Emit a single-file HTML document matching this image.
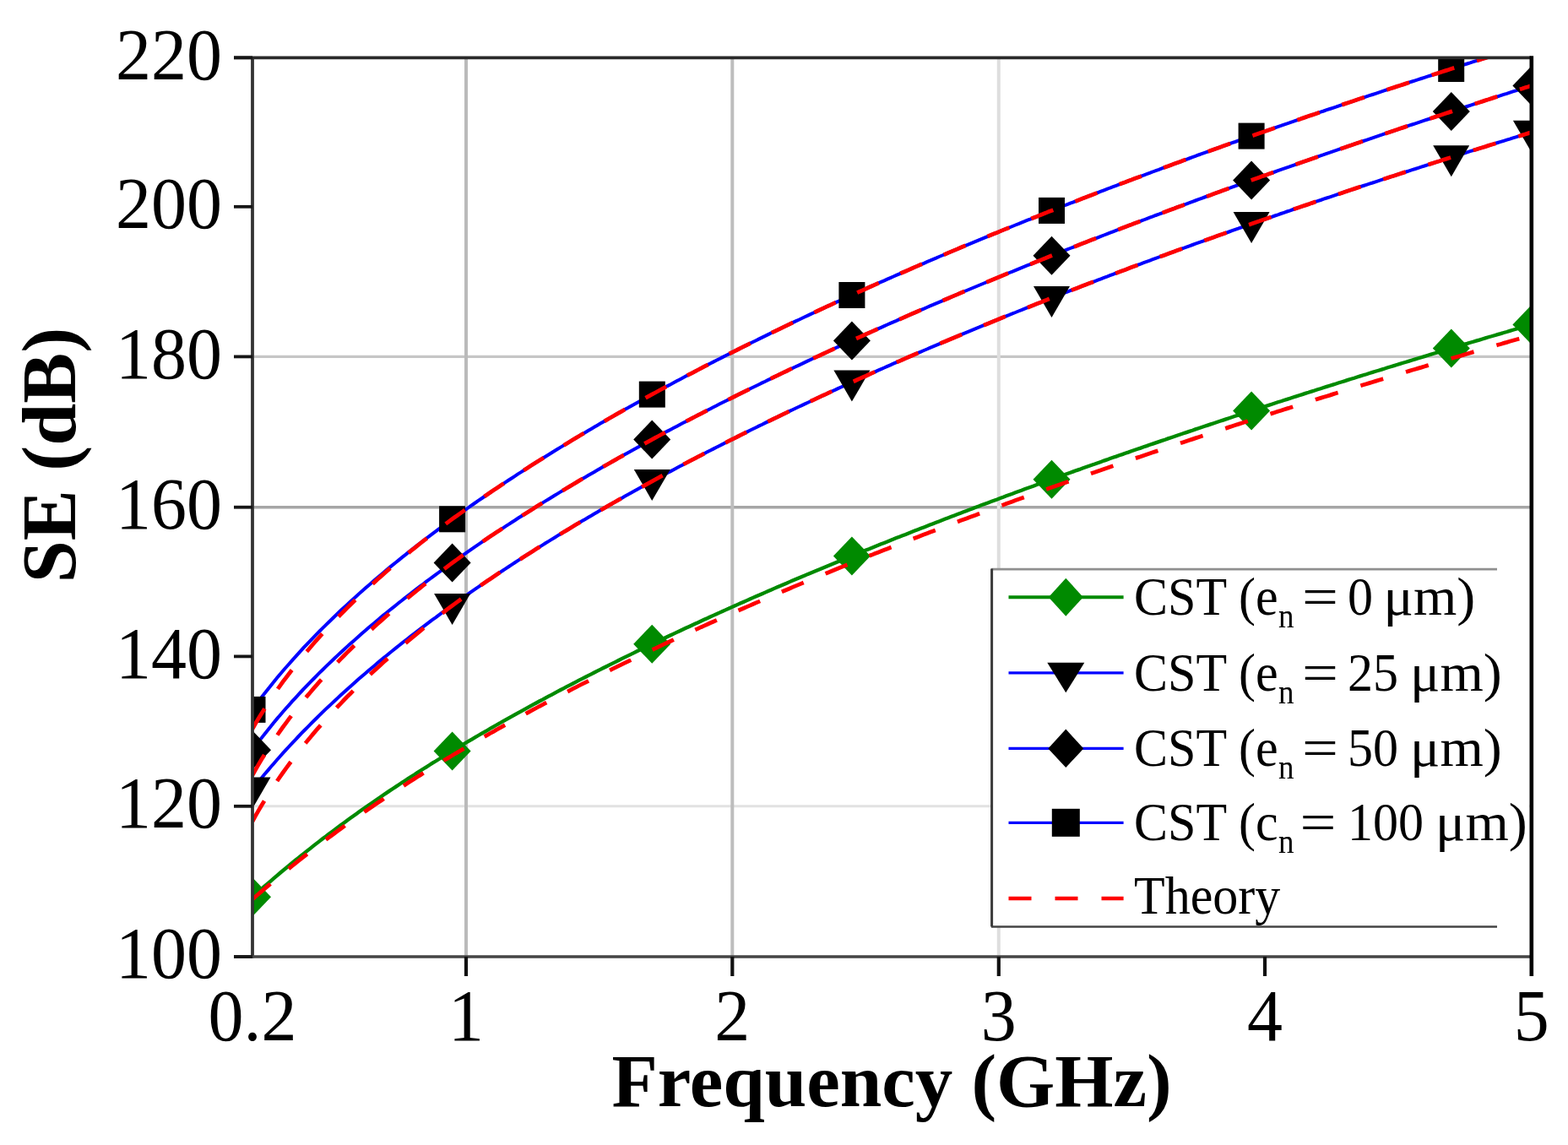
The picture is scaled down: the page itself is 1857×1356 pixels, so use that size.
<!DOCTYPE html><html><head><meta charset="utf-8"><style>html,body{margin:0;padding:0;background:#fff;}svg{display:block;}text{font-family:"Liberation Serif","Times New Roman",serif;}</style></head><body>
<svg width="1857" height="1356" viewBox="0 0 1857 1356">
<rect width="1857" height="1356" fill="#fff"/>
<defs><clipPath id="pc"><rect x="299.0" y="68.9" width="1514.5" height="1064.1"/></clipPath></defs>
<line x1="299.0" y1="422.4" x2="1813.5" y2="422.4" stroke="#c6c6c6" stroke-width="3.2"/>
<line x1="299.0" y1="600.7" x2="1813.5" y2="600.7" stroke="#a6a6a6" stroke-width="3.4"/>
<line x1="299.0" y1="954.8" x2="1813.5" y2="954.8" stroke="#e2e2e2" stroke-width="3.0"/>
<line x1="552.0" y1="68.9" x2="552.0" y2="1133.0" stroke="#bababa" stroke-width="4.0"/>
<line x1="867.3" y1="68.9" x2="867.3" y2="1133.0" stroke="#bdbdbd" stroke-width="4.0"/>
<line x1="1182.8" y1="68.9" x2="1182.8" y2="1133.0" stroke="#dedede" stroke-width="4.0"/>
<g clip-path="url(#pc)" fill="none">
<path d="M299.0,1062.2 L302.6,1059.0 L306.2,1055.9 L309.8,1052.7 L313.5,1049.5 L317.1,1046.4 L320.7,1043.3 L324.3,1040.2 L327.9,1037.1 L331.5,1034.0 L335.1,1031.0 L338.8,1028.0 L342.4,1025.0 L346.0,1022.0 L349.6,1019.0 L353.2,1016.1 L356.8,1013.2 L360.4,1010.3 L364.1,1007.4 L367.7,1004.6 L371.3,1001.7 L374.9,998.9 L378.5,996.1 L382.1,993.3 L385.7,990.6 L389.4,987.8 L393.0,985.1 L396.6,982.4 L400.2,979.7 L403.8,977.0 L407.4,974.4 L411.0,971.7 L414.7,969.1 L418.3,966.5 L421.9,963.9 L425.5,961.3 L429.1,958.8 L432.7,956.2 L436.3,953.7 L440.0,951.2 L443.6,948.7 L447.2,946.2 L450.8,943.8 L454.4,941.3 L458.0,938.9 L461.6,936.4 L465.3,934.0 L468.9,931.6 L472.5,929.2 L476.1,926.8 L479.7,924.5 L483.3,922.1 L486.9,919.8 L490.6,917.5 L494.2,915.1 L497.8,912.8 L501.4,910.5 L505.0,908.3 L508.6,906.0 L512.2,903.7 L515.9,901.5 L519.5,899.2 L523.1,897.0 L526.7,894.8 L530.3,892.6 L533.9,890.4 L537.5,888.2 L541.2,886.0 L544.8,883.9 L548.4,881.7 L552.0,879.5 L555.6,877.4 L559.2,875.3 L562.8,873.2 L566.5,871.0 L570.1,868.9 L573.7,866.8 L577.3,864.8 L580.9,862.7 L584.5,860.6 L588.1,858.5 L591.8,856.5 L595.4,854.4 L599.0,852.4 L602.6,850.4 L606.2,848.4 L609.8,846.3 L613.4,844.3 L617.1,842.3 L620.7,840.4 L624.3,838.4 L627.9,836.4 L631.5,834.4 L635.1,832.5 L638.7,830.5 L642.4,828.6 L646.0,826.6 L649.6,824.7 L653.2,822.8 L656.8,820.8 L660.4,818.9 L664.0,817.0 L667.7,815.1 L671.3,813.2 L674.9,811.3 L678.5,809.5 L682.1,807.6 L685.7,805.7 L689.3,803.9 L693.0,802.0 L696.6,800.2 L700.2,798.3 L703.8,796.5 L707.4,794.6 L711.0,792.8 L714.6,791.0 L718.3,789.2 L721.9,787.4 L725.5,785.6 L729.1,783.8 L732.7,782.0 L736.3,780.2 L739.9,778.4 L743.6,776.6 L747.2,774.9 L750.8,773.1 L754.4,771.3 L758.0,769.6 L761.6,767.8 L765.2,766.1 L768.9,764.3 L772.5,762.6 L776.1,760.9 L779.7,759.2 L783.3,757.4 L786.9,755.7 L790.5,754.0 L794.2,752.3 L797.8,750.6 L801.4,748.9 L805.0,747.2 L808.6,745.5 L812.2,743.8 L815.8,742.2 L819.5,740.5 L823.1,738.8 L826.7,737.2 L830.3,735.5 L833.9,733.8 L837.5,732.2 L841.1,730.5 L844.8,728.9 L848.4,727.3 L852.0,725.6 L855.6,724.0 L859.2,722.4 L862.8,720.8 L866.4,719.1 L870.1,717.5 L873.7,715.9 L877.3,714.3 L880.9,712.7 L884.5,711.1 L888.1,709.5 L891.7,707.9 L895.4,706.3 L899.0,704.8 L902.6,703.2 L906.2,701.6 L909.8,700.0 L913.4,698.5 L917.0,696.9 L920.7,695.3 L924.3,693.8 L927.9,692.2 L931.5,690.7 L935.1,689.1 L938.7,687.6 L942.3,686.1 L946.0,684.5 L949.6,683.0 L953.2,681.5 L956.8,679.9 L960.4,678.4 L964.0,676.9 L967.6,675.4 L971.3,673.9 L974.9,672.4 L978.5,670.9 L982.1,669.4 L985.7,667.9 L989.3,666.4 L992.9,664.9 L996.6,663.4 L1000.2,661.9 L1003.8,660.4 L1007.4,659.0 L1011.0,657.5 L1014.6,656.0 L1018.2,654.5 L1021.9,653.1 L1025.5,651.6 L1029.1,650.2 L1032.7,648.7 L1036.3,647.2 L1039.9,645.8 L1043.5,644.3 L1047.2,642.9 L1050.8,641.5 L1054.4,640.0 L1058.0,638.6 L1061.6,637.1 L1065.2,635.7 L1068.9,634.3 L1072.5,632.9 L1076.1,631.4 L1079.7,630.0 L1083.3,628.6 L1086.9,627.2 L1090.5,625.8 L1094.2,624.4 L1097.8,623.0 L1101.4,621.6 L1105.0,620.2 L1108.6,618.8 L1112.2,617.4 L1115.8,616.0 L1119.5,614.6 L1123.1,613.2 L1126.7,611.8 L1130.3,610.4 L1133.9,609.1 L1137.5,607.7 L1141.1,606.3 L1144.8,604.9 L1148.4,603.6 L1152.0,602.2 L1155.6,600.8 L1159.2,599.5 L1162.8,598.1 L1166.4,596.8 L1170.1,595.4 L1173.7,594.1 L1177.3,592.7 L1180.9,591.4 L1184.5,590.0 L1188.1,588.7 L1191.7,587.3 L1195.4,586.0 L1199.0,584.7 L1202.6,583.3 L1206.2,582.0 L1209.8,580.7 L1213.4,579.3 L1217.0,578.0 L1220.7,576.7 L1224.3,575.4 L1227.9,574.1 L1231.5,572.7 L1235.1,571.4 L1238.7,570.1 L1242.3,568.8 L1246.0,567.5 L1249.6,566.2 L1253.2,564.9 L1256.8,563.6 L1260.4,562.3 L1264.0,561.0 L1267.6,559.7 L1271.3,558.4 L1274.9,557.1 L1278.5,555.9 L1282.1,554.6 L1285.7,553.3 L1289.3,552.0 L1292.9,550.7 L1296.6,549.5 L1300.2,548.2 L1303.8,546.9 L1307.4,545.6 L1311.0,544.4 L1314.6,543.1 L1318.2,541.8 L1321.9,540.6 L1325.5,539.3 L1329.1,538.1 L1332.7,536.8 L1336.3,535.6 L1339.9,534.3 L1343.5,533.0 L1347.2,531.8 L1350.8,530.6 L1354.4,529.3 L1358.0,528.1 L1361.6,526.8 L1365.2,525.6 L1368.8,524.4 L1372.5,523.1 L1376.1,521.9 L1379.7,520.7 L1383.3,519.4 L1386.9,518.2 L1390.5,517.0 L1394.1,515.7 L1397.8,514.5 L1401.4,513.3 L1405.0,512.1 L1408.6,510.9 L1412.2,509.7 L1415.8,508.4 L1419.4,507.2 L1423.1,506.0 L1426.7,504.8 L1430.3,503.6 L1433.9,502.4 L1437.5,501.2 L1441.1,500.0 L1444.7,498.8 L1448.4,497.6 L1452.0,496.4 L1455.6,495.2 L1459.2,494.0 L1462.8,492.8 L1466.4,491.6 L1470.0,490.5 L1473.7,489.3 L1477.3,488.1 L1480.9,486.9 L1484.5,485.7 L1488.1,484.6 L1491.7,483.4 L1495.3,482.2 L1499.0,481.0 L1502.6,479.9 L1506.2,478.7 L1509.8,477.5 L1513.4,476.3 L1517.0,475.2 L1520.6,474.0 L1524.3,472.9 L1527.9,471.7 L1531.5,470.5 L1535.1,469.4 L1538.7,468.2 L1542.3,467.1 L1545.9,465.9 L1549.6,464.8 L1553.2,463.6 L1556.8,462.5 L1560.4,461.3 L1564.0,460.2 L1567.6,459.0 L1571.2,457.9 L1574.9,456.7 L1578.5,455.6 L1582.1,454.5 L1585.7,453.3 L1589.3,452.2 L1592.9,451.1 L1596.5,449.9 L1600.2,448.8 L1603.8,447.7 L1607.4,446.5 L1611.0,445.4 L1614.6,444.3 L1618.2,443.2 L1621.8,442.0 L1625.5,440.9 L1629.1,439.8 L1632.7,438.7 L1636.3,437.6 L1639.9,436.5 L1643.5,435.3 L1647.1,434.2 L1650.8,433.1 L1654.4,432.0 L1658.0,430.9 L1661.6,429.8 L1665.2,428.7 L1668.8,427.6 L1672.4,426.5 L1676.1,425.4 L1679.7,424.3 L1683.3,423.2 L1686.9,422.1 L1690.5,421.0 L1694.1,419.9 L1697.7,418.8 L1701.4,417.7 L1705.0,416.6 L1708.6,415.5 L1712.2,414.4 L1715.8,413.4 L1719.4,412.3 L1723.0,411.2 L1726.7,410.1 L1730.3,409.0 L1733.9,407.9 L1737.5,406.9 L1741.1,405.8 L1744.7,404.7 L1748.3,403.6 L1752.0,402.6 L1755.6,401.5 L1759.2,400.4 L1762.8,399.3 L1766.4,398.3 L1770.0,397.2 L1773.6,396.1 L1777.3,395.1 L1780.9,394.0 L1784.5,393.0 L1788.1,391.9 L1791.7,390.8 L1795.3,389.8 L1798.9,388.7 L1802.6,387.7 L1806.2,386.6 L1809.8,385.6 L1813.4,384.5" stroke="#008a00" stroke-width="4.3" fill="none"/>
<path d="M299.0,934.6 L302.6,930.1 L306.2,925.6 L309.8,921.2 L313.5,916.8 L317.1,912.6 L320.7,908.3 L324.3,904.2 L327.9,900.0 L331.5,896.0 L335.1,891.9 L338.8,887.9 L342.4,884.0 L346.0,880.1 L349.6,876.3 L353.2,872.5 L356.8,868.7 L360.4,865.0 L364.1,861.3 L367.7,857.7 L371.3,854.0 L374.9,850.5 L378.5,846.9 L382.1,843.4 L385.7,839.9 L389.4,836.5 L393.0,833.1 L396.6,829.7 L400.2,826.4 L403.8,823.0 L407.4,819.7 L411.0,816.5 L414.7,813.2 L418.3,810.0 L421.9,806.8 L425.5,803.6 L429.1,800.5 L432.7,797.4 L436.3,794.3 L440.0,791.2 L443.6,788.2 L447.2,785.1 L450.8,782.1 L454.4,779.1 L458.0,776.2 L461.6,773.2 L465.3,770.3 L468.9,767.4 L472.5,764.5 L476.1,761.7 L479.7,758.8 L483.3,756.0 L486.9,753.2 L490.6,750.4 L494.2,747.6 L497.8,744.8 L501.4,742.1 L505.0,739.4 L508.6,736.6 L512.2,733.9 L515.9,731.3 L519.5,728.6 L523.1,725.9 L526.7,723.3 L530.3,720.7 L533.9,718.1 L537.5,715.5 L541.2,712.9 L544.8,710.3 L548.4,707.8 L552.0,705.3 L555.6,702.7 L559.2,700.2 L562.8,697.7 L566.5,695.2 L570.1,692.7 L573.7,690.3 L577.3,687.8 L580.9,685.4 L584.5,683.0 L588.1,680.6 L591.8,678.1 L595.4,675.8 L599.0,673.4 L602.6,671.0 L606.2,668.6 L609.8,666.3 L613.4,663.9 L617.1,661.6 L620.7,659.3 L624.3,657.0 L627.9,654.7 L631.5,652.4 L635.1,650.1 L638.7,647.9 L642.4,645.6 L646.0,643.3 L649.6,641.1 L653.2,638.9 L656.8,636.7 L660.4,634.4 L664.0,632.2 L667.7,630.0 L671.3,627.9 L674.9,625.7 L678.5,623.5 L682.1,621.3 L685.7,619.2 L689.3,617.0 L693.0,614.9 L696.6,612.8 L700.2,610.7 L703.8,608.5 L707.4,606.4 L711.0,604.3 L714.6,602.3 L718.3,600.2 L721.9,598.1 L725.5,596.0 L729.1,594.0 L732.7,591.9 L736.3,589.9 L739.9,587.8 L743.6,585.8 L747.2,583.8 L750.8,581.8 L754.4,579.8 L758.0,577.8 L761.6,575.8 L765.2,573.8 L768.9,571.8 L772.5,569.8 L776.1,567.9 L779.7,565.9 L783.3,563.9 L786.9,562.0 L790.5,560.0 L794.2,558.1 L797.8,556.2 L801.4,554.3 L805.0,552.3 L808.6,550.4 L812.2,548.5 L815.8,546.6 L819.5,544.7 L823.1,542.8 L826.7,540.9 L830.3,539.1 L833.9,537.2 L837.5,535.3 L841.1,533.5 L844.8,531.6 L848.4,529.8 L852.0,527.9 L855.6,526.1 L859.2,524.3 L862.8,522.4 L866.4,520.6 L870.1,518.8 L873.7,517.0 L877.3,515.2 L880.9,513.4 L884.5,511.6 L888.1,509.8 L891.7,508.0 L895.4,506.2 L899.0,504.4 L902.6,502.7 L906.2,500.9 L909.8,499.1 L913.4,497.4 L917.0,495.6 L920.7,493.9 L924.3,492.1 L927.9,490.4 L931.5,488.7 L935.1,486.9 L938.7,485.2 L942.3,483.5 L946.0,481.8 L949.6,480.1 L953.2,478.4 L956.8,476.7 L960.4,475.0 L964.0,473.3 L967.6,471.6 L971.3,469.9 L974.9,468.2 L978.5,466.6 L982.1,464.9 L985.7,463.2 L989.3,461.6 L992.9,459.9 L996.6,458.2 L1000.2,456.6 L1003.8,454.9 L1007.4,453.3 L1011.0,451.7 L1014.6,450.0 L1018.2,448.4 L1021.9,446.8 L1025.5,445.2 L1029.1,443.5 L1032.7,441.9 L1036.3,440.3 L1039.9,438.7 L1043.5,437.1 L1047.2,435.5 L1050.8,433.9 L1054.4,432.3 L1058.0,430.7 L1061.6,429.1 L1065.2,427.6 L1068.9,426.0 L1072.5,424.4 L1076.1,422.8 L1079.7,421.3 L1083.3,419.7 L1086.9,418.1 L1090.5,416.6 L1094.2,415.0 L1097.8,413.5 L1101.4,411.9 L1105.0,410.4 L1108.6,408.9 L1112.2,407.3 L1115.8,405.8 L1119.5,404.3 L1123.1,402.7 L1126.7,401.2 L1130.3,399.7 L1133.9,398.2 L1137.5,396.7 L1141.1,395.2 L1144.8,393.6 L1148.4,392.1 L1152.0,390.6 L1155.6,389.1 L1159.2,387.7 L1162.8,386.2 L1166.4,384.7 L1170.1,383.2 L1173.7,381.7 L1177.3,380.2 L1180.9,378.8 L1184.5,377.3 L1188.1,375.8 L1191.7,374.3 L1195.4,372.9 L1199.0,371.4 L1202.6,370.0 L1206.2,368.5 L1209.8,367.1 L1213.4,365.6 L1217.0,364.2 L1220.7,362.7 L1224.3,361.3 L1227.9,359.8 L1231.5,358.4 L1235.1,357.0 L1238.7,355.6 L1242.3,354.1 L1246.0,352.7 L1249.6,351.3 L1253.2,349.9 L1256.8,348.5 L1260.4,347.0 L1264.0,345.6 L1267.6,344.2 L1271.3,342.8 L1274.9,341.4 L1278.5,340.0 L1282.1,338.6 L1285.7,337.2 L1289.3,335.8 L1292.9,334.5 L1296.6,333.1 L1300.2,331.7 L1303.8,330.3 L1307.4,328.9 L1311.0,327.6 L1314.6,326.2 L1318.2,324.8 L1321.9,323.4 L1325.5,322.1 L1329.1,320.7 L1332.7,319.4 L1336.3,318.0 L1339.9,316.6 L1343.5,315.3 L1347.2,313.9 L1350.8,312.6 L1354.4,311.2 L1358.0,309.9 L1361.6,308.6 L1365.2,307.2 L1368.8,305.9 L1372.5,304.5 L1376.1,303.2 L1379.7,301.9 L1383.3,300.6 L1386.9,299.2 L1390.5,297.9 L1394.1,296.6 L1397.8,295.3 L1401.4,294.0 L1405.0,292.6 L1408.6,291.3 L1412.2,290.0 L1415.8,288.7 L1419.4,287.4 L1423.1,286.1 L1426.7,284.8 L1430.3,283.5 L1433.9,282.2 L1437.5,280.9 L1441.1,279.6 L1444.7,278.3 L1448.4,277.1 L1452.0,275.8 L1455.6,274.5 L1459.2,273.2 L1462.8,271.9 L1466.4,270.7 L1470.0,269.4 L1473.7,268.1 L1477.3,266.8 L1480.9,265.6 L1484.5,264.3 L1488.1,263.0 L1491.7,261.8 L1495.3,260.5 L1499.0,259.3 L1502.6,258.0 L1506.2,256.8 L1509.8,255.5 L1513.4,254.3 L1517.0,253.0 L1520.6,251.8 L1524.3,250.5 L1527.9,249.3 L1531.5,248.0 L1535.1,246.8 L1538.7,245.6 L1542.3,244.3 L1545.9,243.1 L1549.6,241.9 L1553.2,240.6 L1556.8,239.4 L1560.4,238.2 L1564.0,237.0 L1567.6,235.7 L1571.2,234.5 L1574.9,233.3 L1578.5,232.1 L1582.1,230.9 L1585.7,229.7 L1589.3,228.5 L1592.9,227.2 L1596.5,226.0 L1600.2,224.8 L1603.8,223.6 L1607.4,222.4 L1611.0,221.2 L1614.6,220.0 L1618.2,218.8 L1621.8,217.6 L1625.5,216.5 L1629.1,215.3 L1632.7,214.1 L1636.3,212.9 L1639.9,211.7 L1643.5,210.5 L1647.1,209.3 L1650.8,208.2 L1654.4,207.0 L1658.0,205.8 L1661.6,204.6 L1665.2,203.5 L1668.8,202.3 L1672.4,201.1 L1676.1,200.0 L1679.7,198.8 L1683.3,197.6 L1686.9,196.5 L1690.5,195.3 L1694.1,194.1 L1697.7,193.0 L1701.4,191.8 L1705.0,190.7 L1708.6,189.5 L1712.2,188.4 L1715.8,187.2 L1719.4,186.1 L1723.0,184.9 L1726.7,183.8 L1730.3,182.6 L1733.9,181.5 L1737.5,180.4 L1741.1,179.2 L1744.7,178.1 L1748.3,177.0 L1752.0,175.8 L1755.6,174.7 L1759.2,173.6 L1762.8,172.4 L1766.4,171.3 L1770.0,170.2 L1773.6,169.0 L1777.3,167.9 L1780.9,166.8 L1784.5,165.7 L1788.1,164.6 L1791.7,163.4 L1795.3,162.3 L1798.9,161.2 L1802.6,160.1 L1806.2,159.0 L1809.8,157.9 L1813.4,156.8" stroke="#0000ff" stroke-width="4.0" fill="none"/>
<path d="M299.0,888.3 L302.6,883.4 L306.2,878.6 L309.8,873.9 L313.5,869.2 L317.1,864.7 L320.7,860.2 L324.3,855.8 L327.9,851.4 L331.5,847.2 L335.1,843.0 L338.8,838.8 L342.4,834.8 L346.0,830.7 L349.6,826.8 L353.2,822.8 L356.8,819.0 L360.4,815.2 L364.1,811.4 L367.7,807.7 L371.3,804.0 L374.9,800.3 L378.5,796.7 L382.1,793.2 L385.7,789.6 L389.4,786.1 L393.0,782.7 L396.6,779.3 L400.2,775.9 L403.8,772.5 L407.4,769.2 L411.0,765.9 L414.7,762.6 L418.3,759.4 L421.9,756.2 L425.5,753.0 L429.1,749.8 L432.7,746.7 L436.3,743.6 L440.0,740.5 L443.6,737.5 L447.2,734.4 L450.8,731.4 L454.4,728.4 L458.0,725.5 L461.6,722.5 L465.3,719.6 L468.9,716.7 L472.5,713.8 L476.1,711.0 L479.7,708.1 L483.3,705.3 L486.9,702.5 L490.6,699.7 L494.2,696.9 L497.8,694.2 L501.4,691.5 L505.0,688.7 L508.6,686.0 L512.2,683.4 L515.9,680.7 L519.5,678.0 L523.1,675.4 L526.7,672.8 L530.3,670.2 L533.9,667.6 L537.5,665.0 L541.2,662.5 L544.8,659.9 L548.4,657.4 L552.0,654.8 L555.6,652.3 L559.2,649.8 L562.8,647.4 L566.5,644.9 L570.1,642.4 L573.7,640.0 L577.3,637.5 L580.9,635.1 L584.5,632.7 L588.1,630.3 L591.8,627.9 L595.4,625.6 L599.0,623.2 L602.6,620.8 L606.2,618.5 L609.8,616.2 L613.4,613.8 L617.1,611.5 L620.7,609.2 L624.3,606.9 L627.9,604.7 L631.5,602.4 L635.1,600.1 L638.7,597.9 L642.4,595.6 L646.0,593.4 L649.6,591.2 L653.2,589.0 L656.8,586.8 L660.4,584.6 L664.0,582.4 L667.7,580.2 L671.3,578.0 L674.9,575.9 L678.5,573.7 L682.1,571.6 L685.7,569.4 L689.3,567.3 L693.0,565.2 L696.6,563.1 L700.2,561.0 L703.8,558.9 L707.4,556.8 L711.0,554.7 L714.6,552.6 L718.3,550.5 L721.9,548.5 L725.5,546.4 L729.1,544.4 L732.7,542.3 L736.3,540.3 L739.9,538.3 L743.6,536.3 L747.2,534.3 L750.8,532.3 L754.4,530.3 L758.0,528.3 L761.6,526.3 L765.2,524.3 L768.9,522.3 L772.5,520.4 L776.1,518.4 L779.7,516.5 L783.3,514.5 L786.9,512.6 L790.5,510.6 L794.2,508.7 L797.8,506.8 L801.4,504.9 L805.0,503.0 L808.6,501.1 L812.2,499.2 L815.8,497.3 L819.5,495.4 L823.1,493.5 L826.7,491.6 L830.3,489.8 L833.9,487.9 L837.5,486.0 L841.1,484.2 L844.8,482.3 L848.4,480.5 L852.0,478.6 L855.6,476.8 L859.2,475.0 L862.8,473.2 L866.4,471.3 L870.1,469.5 L873.7,467.7 L877.3,465.9 L880.9,464.1 L884.5,462.3 L888.1,460.5 L891.7,458.8 L895.4,457.0 L899.0,455.2 L902.6,453.4 L906.2,451.7 L909.8,449.9 L913.4,448.2 L917.0,446.4 L920.7,444.7 L924.3,442.9 L927.9,441.2 L931.5,439.5 L935.1,437.7 L938.7,436.0 L942.3,434.3 L946.0,432.6 L949.6,430.9 L953.2,429.1 L956.8,427.4 L960.4,425.7 L964.0,424.0 L967.6,422.4 L971.3,420.7 L974.9,419.0 L978.5,417.3 L982.1,415.6 L985.7,414.0 L989.3,412.3 L992.9,410.6 L996.6,409.0 L1000.2,407.3 L1003.8,405.7 L1007.4,404.0 L1011.0,402.4 L1014.6,400.7 L1018.2,399.1 L1021.9,397.5 L1025.5,395.8 L1029.1,394.2 L1032.7,392.6 L1036.3,391.0 L1039.9,389.4 L1043.5,387.8 L1047.2,386.1 L1050.8,384.5 L1054.4,382.9 L1058.0,381.3 L1061.6,379.8 L1065.2,378.2 L1068.9,376.6 L1072.5,375.0 L1076.1,373.4 L1079.7,371.8 L1083.3,370.3 L1086.9,368.7 L1090.5,367.1 L1094.2,365.6 L1097.8,364.0 L1101.4,362.4 L1105.0,360.9 L1108.6,359.3 L1112.2,357.8 L1115.8,356.3 L1119.5,354.7 L1123.1,353.2 L1126.7,351.6 L1130.3,350.1 L1133.9,348.6 L1137.5,347.0 L1141.1,345.5 L1144.8,344.0 L1148.4,342.5 L1152.0,341.0 L1155.6,339.5 L1159.2,338.0 L1162.8,336.5 L1166.4,335.0 L1170.1,333.5 L1173.7,332.0 L1177.3,330.5 L1180.9,329.0 L1184.5,327.5 L1188.1,326.0 L1191.7,324.5 L1195.4,323.0 L1199.0,321.6 L1202.6,320.1 L1206.2,318.6 L1209.8,317.1 L1213.4,315.7 L1217.0,314.2 L1220.7,312.8 L1224.3,311.3 L1227.9,309.8 L1231.5,308.4 L1235.1,306.9 L1238.7,305.5 L1242.3,304.0 L1246.0,302.6 L1249.6,301.2 L1253.2,299.7 L1256.8,298.3 L1260.4,296.9 L1264.0,295.4 L1267.6,294.0 L1271.3,292.6 L1274.9,291.2 L1278.5,289.7 L1282.1,288.3 L1285.7,286.9 L1289.3,285.5 L1292.9,284.1 L1296.6,282.7 L1300.2,281.3 L1303.8,279.9 L1307.4,278.5 L1311.0,277.1 L1314.6,275.7 L1318.2,274.3 L1321.9,272.9 L1325.5,271.5 L1329.1,270.1 L1332.7,268.7 L1336.3,267.3 L1339.9,266.0 L1343.5,264.6 L1347.2,263.2 L1350.8,261.8 L1354.4,260.5 L1358.0,259.1 L1361.6,257.7 L1365.2,256.4 L1368.8,255.0 L1372.5,253.7 L1376.1,252.3 L1379.7,250.9 L1383.3,249.6 L1386.9,248.2 L1390.5,246.9 L1394.1,245.5 L1397.8,244.2 L1401.4,242.9 L1405.0,241.5 L1408.6,240.2 L1412.2,238.8 L1415.8,237.5 L1419.4,236.2 L1423.1,234.8 L1426.7,233.5 L1430.3,232.2 L1433.9,230.9 L1437.5,229.5 L1441.1,228.2 L1444.7,226.9 L1448.4,225.6 L1452.0,224.3 L1455.6,223.0 L1459.2,221.6 L1462.8,220.3 L1466.4,219.0 L1470.0,217.7 L1473.7,216.4 L1477.3,215.1 L1480.9,213.8 L1484.5,212.5 L1488.1,211.2 L1491.7,209.9 L1495.3,208.6 L1499.0,207.4 L1502.6,206.1 L1506.2,204.8 L1509.8,203.5 L1513.4,202.2 L1517.0,200.9 L1520.6,199.7 L1524.3,198.4 L1527.9,197.1 L1531.5,195.8 L1535.1,194.6 L1538.7,193.3 L1542.3,192.0 L1545.9,190.8 L1549.6,189.5 L1553.2,188.2 L1556.8,187.0 L1560.4,185.7 L1564.0,184.4 L1567.6,183.2 L1571.2,181.9 L1574.9,180.7 L1578.5,179.4 L1582.1,178.2 L1585.7,176.9 L1589.3,175.7 L1592.9,174.5 L1596.5,173.2 L1600.2,172.0 L1603.8,170.7 L1607.4,169.5 L1611.0,168.3 L1614.6,167.0 L1618.2,165.8 L1621.8,164.6 L1625.5,163.3 L1629.1,162.1 L1632.7,160.9 L1636.3,159.7 L1639.9,158.4 L1643.5,157.2 L1647.1,156.0 L1650.8,154.8 L1654.4,153.6 L1658.0,152.3 L1661.6,151.1 L1665.2,149.9 L1668.8,148.7 L1672.4,147.5 L1676.1,146.3 L1679.7,145.1 L1683.3,143.9 L1686.9,142.7 L1690.5,141.5 L1694.1,140.3 L1697.7,139.1 L1701.4,137.9 L1705.0,136.7 L1708.6,135.5 L1712.2,134.3 L1715.8,133.1 L1719.4,131.9 L1723.0,130.7 L1726.7,129.6 L1730.3,128.4 L1733.9,127.2 L1737.5,126.0 L1741.1,124.8 L1744.7,123.6 L1748.3,122.5 L1752.0,121.3 L1755.6,120.1 L1759.2,118.9 L1762.8,117.8 L1766.4,116.6 L1770.0,115.4 L1773.6,114.3 L1777.3,113.1 L1780.9,111.9 L1784.5,110.8 L1788.1,109.6 L1791.7,108.4 L1795.3,107.3 L1798.9,106.1 L1802.6,105.0 L1806.2,103.8 L1809.8,102.7 L1813.4,101.5" stroke="#0000ff" stroke-width="4.0" fill="none"/>
<path d="M299.0,840.4 L302.6,835.5 L306.2,830.6 L309.8,825.8 L313.5,821.1 L317.1,816.5 L320.7,812.0 L324.3,807.5 L327.9,803.1 L331.5,798.8 L335.1,794.5 L338.8,790.3 L342.4,786.2 L346.0,782.1 L349.6,778.1 L353.2,774.1 L356.8,770.1 L360.4,766.2 L364.1,762.4 L367.7,758.6 L371.3,754.9 L374.9,751.2 L378.5,747.5 L382.1,743.9 L385.7,740.3 L389.4,736.7 L393.0,733.2 L396.6,729.7 L400.2,726.2 L403.8,722.8 L407.4,719.4 L411.0,716.1 L414.7,712.7 L418.3,709.5 L421.9,706.2 L425.5,702.9 L429.1,699.7 L432.7,696.5 L436.3,693.4 L440.0,690.2 L443.6,687.1 L447.2,684.0 L450.8,681.0 L454.4,677.9 L458.0,674.9 L461.6,671.9 L465.3,668.9 L468.9,666.0 L472.5,663.1 L476.1,660.1 L479.7,657.3 L483.3,654.4 L486.9,651.5 L490.6,648.7 L494.2,645.9 L497.8,643.1 L501.4,640.3 L505.0,637.5 L508.6,634.8 L512.2,632.1 L515.9,629.3 L519.5,626.6 L523.1,624.0 L526.7,621.3 L530.3,618.7 L533.9,616.0 L537.5,613.4 L541.2,610.8 L544.8,608.2 L548.4,605.6 L552.0,603.1 L555.6,600.5 L559.2,598.0 L562.8,595.5 L566.5,592.9 L570.1,590.5 L573.7,588.0 L577.3,585.5 L580.9,583.0 L584.5,580.6 L588.1,578.2 L591.8,575.7 L595.4,573.3 L599.0,570.9 L602.6,568.5 L606.2,566.2 L609.8,563.8 L613.4,561.4 L617.1,559.1 L620.7,556.8 L624.3,554.4 L627.9,552.1 L631.5,549.8 L635.1,547.5 L638.7,545.3 L642.4,543.0 L646.0,540.7 L649.6,538.5 L653.2,536.2 L656.8,534.0 L660.4,531.8 L664.0,529.6 L667.7,527.4 L671.3,525.2 L674.9,523.0 L678.5,520.8 L682.1,518.6 L685.7,516.5 L689.3,514.3 L693.0,512.2 L696.6,510.0 L700.2,507.9 L703.8,505.8 L707.4,503.7 L711.0,501.6 L714.6,499.5 L718.3,497.4 L721.9,495.3 L725.5,493.2 L729.1,491.2 L732.7,489.1 L736.3,487.1 L739.9,485.0 L743.6,483.0 L747.2,480.9 L750.8,478.9 L754.4,476.9 L758.0,474.9 L761.6,472.9 L765.2,470.9 L768.9,468.9 L772.5,466.9 L776.1,465.0 L779.7,463.0 L783.3,461.0 L786.9,459.1 L790.5,457.1 L794.2,455.2 L797.8,453.3 L801.4,451.3 L805.0,449.4 L808.6,447.5 L812.2,445.6 L815.8,443.7 L819.5,441.8 L823.1,439.9 L826.7,438.0 L830.3,436.1 L833.9,434.2 L837.5,432.4 L841.1,430.5 L844.8,428.6 L848.4,426.8 L852.0,424.9 L855.6,423.1 L859.2,421.3 L862.8,419.4 L866.4,417.6 L870.1,415.8 L873.7,414.0 L877.3,412.2 L880.9,410.4 L884.5,408.6 L888.1,406.8 L891.7,405.0 L895.4,403.2 L899.0,401.4 L902.6,399.6 L906.2,397.9 L909.8,396.1 L913.4,394.3 L917.0,392.6 L920.7,390.8 L924.3,389.1 L927.9,387.3 L931.5,385.6 L935.1,383.9 L938.7,382.1 L942.3,380.4 L946.0,378.7 L949.6,377.0 L953.2,375.3 L956.8,373.6 L960.4,371.9 L964.0,370.2 L967.6,368.5 L971.3,366.8 L974.9,365.1 L978.5,363.4 L982.1,361.8 L985.7,360.1 L989.3,358.4 L992.9,356.8 L996.6,355.1 L1000.2,353.4 L1003.8,351.8 L1007.4,350.1 L1011.0,348.5 L1014.6,346.9 L1018.2,345.2 L1021.9,343.6 L1025.5,342.0 L1029.1,340.3 L1032.7,338.7 L1036.3,337.1 L1039.9,335.5 L1043.5,333.9 L1047.2,332.3 L1050.8,330.7 L1054.4,329.1 L1058.0,327.5 L1061.6,325.9 L1065.2,324.3 L1068.9,322.7 L1072.5,321.2 L1076.1,319.6 L1079.7,318.0 L1083.3,316.4 L1086.9,314.9 L1090.5,313.3 L1094.2,311.8 L1097.8,310.2 L1101.4,308.7 L1105.0,307.1 L1108.6,305.6 L1112.2,304.0 L1115.8,302.5 L1119.5,301.0 L1123.1,299.4 L1126.7,297.9 L1130.3,296.4 L1133.9,294.9 L1137.5,293.3 L1141.1,291.8 L1144.8,290.3 L1148.4,288.8 L1152.0,287.3 L1155.6,285.8 L1159.2,284.3 L1162.8,282.8 L1166.4,281.3 L1170.1,279.8 L1173.7,278.3 L1177.3,276.8 L1180.9,275.4 L1184.5,273.9 L1188.1,272.4 L1191.7,270.9 L1195.4,269.5 L1199.0,268.0 L1202.6,266.5 L1206.2,265.1 L1209.8,263.6 L1213.4,262.2 L1217.0,260.7 L1220.7,259.3 L1224.3,257.8 L1227.9,256.4 L1231.5,254.9 L1235.1,253.5 L1238.7,252.1 L1242.3,250.6 L1246.0,249.2 L1249.6,247.8 L1253.2,246.4 L1256.8,244.9 L1260.4,243.5 L1264.0,242.1 L1267.6,240.7 L1271.3,239.3 L1274.9,237.9 L1278.5,236.5 L1282.1,235.1 L1285.7,233.7 L1289.3,232.3 L1292.9,230.9 L1296.6,229.5 L1300.2,228.1 L1303.8,226.7 L1307.4,225.3 L1311.0,223.9 L1314.6,222.5 L1318.2,221.2 L1321.9,219.8 L1325.5,218.4 L1329.1,217.0 L1332.7,215.7 L1336.3,214.3 L1339.9,213.0 L1343.5,211.6 L1347.2,210.2 L1350.8,208.9 L1354.4,207.5 L1358.0,206.2 L1361.6,204.8 L1365.2,203.5 L1368.8,202.1 L1372.5,200.8 L1376.1,199.4 L1379.7,198.1 L1383.3,196.8 L1386.9,195.4 L1390.5,194.1 L1394.1,192.8 L1397.8,191.5 L1401.4,190.1 L1405.0,188.8 L1408.6,187.5 L1412.2,186.2 L1415.8,184.9 L1419.4,183.5 L1423.1,182.2 L1426.7,180.9 L1430.3,179.6 L1433.9,178.3 L1437.5,177.0 L1441.1,175.7 L1444.7,174.4 L1448.4,173.1 L1452.0,171.8 L1455.6,170.5 L1459.2,169.2 L1462.8,168.0 L1466.4,166.7 L1470.0,165.4 L1473.7,164.1 L1477.3,162.8 L1480.9,161.5 L1484.5,160.3 L1488.1,159.0 L1491.7,157.7 L1495.3,156.5 L1499.0,155.2 L1502.6,153.9 L1506.2,152.7 L1509.8,151.4 L1513.4,150.1 L1517.0,148.9 L1520.6,147.6 L1524.3,146.4 L1527.9,145.1 L1531.5,143.9 L1535.1,142.6 L1538.7,141.4 L1542.3,140.1 L1545.9,138.9 L1549.6,137.6 L1553.2,136.4 L1556.8,135.2 L1560.4,133.9 L1564.0,132.7 L1567.6,131.5 L1571.2,130.2 L1574.9,129.0 L1578.5,127.8 L1582.1,126.6 L1585.7,125.3 L1589.3,124.1 L1592.9,122.9 L1596.5,121.7 L1600.2,120.5 L1603.8,119.3 L1607.4,118.0 L1611.0,116.8 L1614.6,115.6 L1618.2,114.4 L1621.8,113.2 L1625.5,112.0 L1629.1,110.8 L1632.7,109.6 L1636.3,108.4 L1639.9,107.2 L1643.5,106.0 L1647.1,104.8 L1650.8,103.6 L1654.4,102.4 L1658.0,101.3 L1661.6,100.1 L1665.2,98.9 L1668.8,97.7 L1672.4,96.5 L1676.1,95.3 L1679.7,94.2 L1683.3,93.0 L1686.9,91.8 L1690.5,90.6 L1694.1,89.5 L1697.7,88.3 L1701.4,87.1 L1705.0,86.0 L1708.6,84.8 L1712.2,83.6 L1715.8,82.5 L1719.4,81.3 L1723.0,80.2 L1726.7,79.0 L1730.3,77.8 L1733.9,76.7 L1737.5,75.5 L1741.1,74.4 L1744.7,73.2 L1748.3,72.1 L1752.0,70.9 L1755.6,69.8 L1759.2,68.7 L1762.8,67.5 L1766.4,66.4 L1770.0,65.2 L1773.6,64.1 L1777.3,63.0 L1780.9,61.8 L1784.5,60.7 L1788.1,59.6 L1791.7,58.4 L1795.3,57.3 L1798.9,56.2 L1802.6,55.0 L1806.2,53.9 L1809.8,52.8 L1813.4,51.7" stroke="#0000ff" stroke-width="4.0" fill="none"/>
<path d="M299.0,1039.2 L321.0,1062.2 L299.0,1085.2 L277.0,1062.2 Z" fill="#008a00"/>
<path d="M277.5,920.6 L320.5,920.6 L299.0,957.6 Z" fill="#000"/>
<path d="M299.0,865.3 L321.0,888.3 L299.0,911.3 L277.0,888.3 Z" fill="#000"/>
<rect x="283.5" y="824.9" width="31" height="31" fill="#000"/>
<path d="M535.6,866.4 L557.6,889.4 L535.6,912.4 L513.6,889.4 Z" fill="#008a00"/>
<path d="M514.1,702.9 L557.1,702.9 L535.6,739.9 Z" fill="#000"/>
<path d="M535.6,643.4 L557.6,666.4 L535.6,689.4 L513.6,666.4 Z" fill="#000"/>
<rect x="520.1" y="599.3" width="31" height="31" fill="#000"/>
<path d="M772.2,739.7 L794.2,762.7 L772.2,785.7 L750.2,762.7 Z" fill="#008a00"/>
<path d="M750.8,555.9 L793.8,555.9 L772.2,592.9 Z" fill="#000"/>
<path d="M772.2,497.5 L794.2,520.5 L772.2,543.5 L750.2,520.5 Z" fill="#000"/>
<rect x="756.8" y="451.6" width="31" height="31" fill="#000"/>
<path d="M1008.9,635.4 L1030.9,658.4 L1008.9,681.4 L986.9,658.4 Z" fill="#008a00"/>
<path d="M987.4,438.6 L1030.4,438.6 L1008.9,475.6 Z" fill="#000"/>
<path d="M1008.9,380.4 L1030.9,403.4 L1008.9,426.4 L986.9,403.4 Z" fill="#000"/>
<rect x="993.4" y="334.0" width="31" height="31" fill="#000"/>
<path d="M1245.5,544.7 L1267.5,567.7 L1245.5,590.7 L1223.5,567.7 Z" fill="#008a00"/>
<path d="M1224.0,338.9 L1267.0,338.9 L1245.5,375.9 Z" fill="#000"/>
<path d="M1245.5,279.8 L1267.5,302.8 L1245.5,325.8 L1223.5,302.8 Z" fill="#000"/>
<rect x="1230.0" y="233.9" width="31" height="31" fill="#000"/>
<path d="M1482.1,463.5 L1504.1,486.5 L1482.1,509.5 L1460.1,486.5 Z" fill="#008a00"/>
<path d="M1460.6,251.1 L1503.6,251.1 L1482.1,288.1 Z" fill="#000"/>
<path d="M1482.1,190.4 L1504.1,213.4 L1482.1,236.4 L1460.1,213.4 Z" fill="#000"/>
<rect x="1466.6" y="145.6" width="31" height="31" fill="#000"/>
<path d="M1718.8,389.5 L1740.8,412.5 L1718.8,435.5 L1696.8,412.5 Z" fill="#008a00"/>
<path d="M1697.2,172.3 L1740.2,172.3 L1718.8,209.3 Z" fill="#000"/>
<path d="M1718.8,109.1 L1740.8,132.1 L1718.8,155.1 L1696.8,132.1 Z" fill="#000"/>
<rect x="1703.2" y="66.0" width="31" height="31" fill="#000"/>
<path d="M1813.4,361.5 L1835.4,384.5 L1813.4,407.5 L1791.4,384.5 Z" fill="#008a00"/>
<path d="M1791.9,142.8 L1834.9,142.8 L1813.4,179.8 Z" fill="#000"/>
<path d="M1813.4,78.5 L1835.4,101.5 L1813.4,124.5 L1791.4,101.5 Z" fill="#000"/>
<rect x="1797.9" y="36.2" width="31" height="31" fill="#000"/>
<path d="M299.0,1064.9 L302.6,1061.8 L306.2,1058.7 L309.8,1055.6 L313.5,1052.5 L317.1,1049.4 L320.7,1046.4 L324.3,1043.3 L327.9,1040.3 L331.5,1037.3 L335.1,1034.3 L338.8,1031.4 L342.4,1028.4 L346.0,1025.5 L349.6,1022.6 L353.2,1019.7 L356.8,1016.8 L360.4,1014.0 L364.1,1011.1 L367.7,1008.3 L371.3,1005.5 L374.9,1002.8 L378.5,1000.0 L382.1,997.3 L385.7,994.5 L389.4,991.8 L393.0,989.2 L396.6,986.5 L400.2,983.8 L403.8,981.2 L407.4,978.6 L411.0,976.0 L414.7,973.4 L418.3,970.8 L421.9,968.3 L425.5,965.7 L429.1,963.2 L432.7,960.7 L436.3,958.2 L440.0,955.7 L443.6,953.3 L447.2,950.8 L450.8,948.4 L454.4,946.0 L458.0,943.5 L461.6,941.2 L465.3,938.8 L468.9,936.4 L472.5,934.0 L476.1,931.7 L479.7,929.4 L483.3,927.0 L486.9,924.7 L490.6,922.4 L494.2,920.1 L497.8,917.9 L501.4,915.6 L505.0,913.3 L508.6,911.1 L512.2,908.9 L515.9,906.6 L519.5,904.4 L523.1,902.2 L526.7,900.0 L530.3,897.9 L533.9,895.7 L537.5,893.5 L541.2,891.4 L544.8,889.2 L548.4,887.1 L552.0,885.0 L555.6,882.9 L559.2,880.8 L562.8,878.7 L566.5,876.6 L570.1,874.5 L573.7,872.4 L577.3,870.4 L580.9,868.3 L584.5,866.3 L588.1,864.2 L591.8,862.2 L595.4,860.2 L599.0,858.2 L602.6,856.2 L606.2,854.2 L609.8,852.2 L613.4,850.2 L617.1,848.2 L620.7,846.3 L624.3,844.3 L627.9,842.3 L631.5,840.4 L635.1,838.5 L638.7,836.5 L642.4,834.6 L646.0,832.7 L649.6,830.8 L653.2,828.9 L656.8,827.0 L660.4,825.1 L664.0,823.2 L667.7,821.3 L671.3,819.5 L674.9,817.6 L678.5,815.7 L682.1,813.9 L685.7,812.0 L689.3,810.2 L693.0,808.4 L696.6,806.6 L700.2,804.7 L703.8,802.9 L707.4,801.1 L711.0,799.3 L714.6,797.5 L718.3,795.7 L721.9,793.9 L725.5,792.1 L729.1,790.4 L732.7,788.6 L736.3,786.8 L739.9,785.1 L743.6,783.3 L747.2,781.6 L750.8,779.8 L754.4,778.1 L758.0,776.4 L761.6,774.6 L765.2,772.9 L768.9,771.2 L772.5,769.5 L776.1,767.8 L779.7,766.1 L783.3,764.4 L786.9,762.7 L790.5,761.0 L794.2,759.3 L797.8,757.6 L801.4,755.9 L805.0,754.3 L808.6,752.6 L812.2,751.0 L815.8,749.3 L819.5,747.6 L823.1,746.0 L826.7,744.4 L830.3,742.7 L833.9,741.1 L837.5,739.5 L841.1,737.8 L844.8,736.2 L848.4,734.6 L852.0,733.0 L855.6,731.4 L859.2,729.8 L862.8,728.2 L866.4,726.6 L870.1,725.0 L873.7,723.4 L877.3,721.8 L880.9,720.2 L884.5,718.6 L888.1,717.1 L891.7,715.5 L895.4,713.9 L899.0,712.4 L902.6,710.8 L906.2,709.3 L909.8,707.7 L913.4,706.2 L917.0,704.6 L920.7,703.1 L924.3,701.5 L927.9,700.0 L931.5,698.5 L935.1,697.0 L938.7,695.4 L942.3,693.9 L946.0,692.4 L949.6,690.9 L953.2,689.4 L956.8,687.9 L960.4,686.4 L964.0,684.9 L967.6,683.4 L971.3,681.9 L974.9,680.4 L978.5,678.9 L982.1,677.5 L985.7,676.0 L989.3,674.5 L992.9,673.0 L996.6,671.6 L1000.2,670.1 L1003.8,668.6 L1007.4,667.2 L1011.0,665.7 L1014.6,664.3 L1018.2,662.8 L1021.9,661.4 L1025.5,659.9 L1029.1,658.5 L1032.7,657.1 L1036.3,655.6 L1039.9,654.2 L1043.5,652.8 L1047.2,651.3 L1050.8,649.9 L1054.4,648.5 L1058.0,647.1 L1061.6,645.7 L1065.2,644.3 L1068.9,642.9 L1072.5,641.5 L1076.1,640.1 L1079.7,638.7 L1083.3,637.3 L1086.9,635.9 L1090.5,634.5 L1094.2,633.1 L1097.8,631.7 L1101.4,630.3 L1105.0,628.9 L1108.6,627.6 L1112.2,626.2 L1115.8,624.8 L1119.5,623.4 L1123.1,622.1 L1126.7,620.7 L1130.3,619.3 L1133.9,618.0 L1137.5,616.6 L1141.1,615.3 L1144.8,613.9 L1148.4,612.6 L1152.0,611.2 L1155.6,609.9 L1159.2,608.5 L1162.8,607.2 L1166.4,605.9 L1170.1,604.5 L1173.7,603.2 L1177.3,601.9 L1180.9,600.5 L1184.5,599.2 L1188.1,597.9 L1191.7,596.6 L1195.4,595.3 L1199.0,593.9 L1202.6,592.6 L1206.2,591.3 L1209.8,590.0 L1213.4,588.7 L1217.0,587.4 L1220.7,586.1 L1224.3,584.8 L1227.9,583.5 L1231.5,582.2 L1235.1,580.9 L1238.7,579.6 L1242.3,578.3 L1246.0,577.0 L1249.6,575.8 L1253.2,574.5 L1256.8,573.2 L1260.4,571.9 L1264.0,570.7 L1267.6,569.4 L1271.3,568.1 L1274.9,566.8 L1278.5,565.6 L1282.1,564.3 L1285.7,563.0 L1289.3,561.8 L1292.9,560.5 L1296.6,559.3 L1300.2,558.0 L1303.8,556.8 L1307.4,555.5 L1311.0,554.3 L1314.6,553.0 L1318.2,551.8 L1321.9,550.5 L1325.5,549.3 L1329.1,548.1 L1332.7,546.8 L1336.3,545.6 L1339.9,544.4 L1343.5,543.1 L1347.2,541.9 L1350.8,540.7 L1354.4,539.4 L1358.0,538.2 L1361.6,537.0 L1365.2,535.8 L1368.8,534.6 L1372.5,533.3 L1376.1,532.1 L1379.7,530.9 L1383.3,529.7 L1386.9,528.5 L1390.5,527.3 L1394.1,526.1 L1397.8,524.9 L1401.4,523.7 L1405.0,522.5 L1408.6,521.3 L1412.2,520.1 L1415.8,518.9 L1419.4,517.7 L1423.1,516.5 L1426.7,515.3 L1430.3,514.1 L1433.9,513.0 L1437.5,511.8 L1441.1,510.6 L1444.7,509.4 L1448.4,508.2 L1452.0,507.1 L1455.6,505.9 L1459.2,504.7 L1462.8,503.5 L1466.4,502.4 L1470.0,501.2 L1473.7,500.0 L1477.3,498.9 L1480.9,497.7 L1484.5,496.6 L1488.1,495.4 L1491.7,494.2 L1495.3,493.1 L1499.0,491.9 L1502.6,490.8 L1506.2,489.6 L1509.8,488.5 L1513.4,487.3 L1517.0,486.2 L1520.6,485.0 L1524.3,483.9 L1527.9,482.8 L1531.5,481.6 L1535.1,480.5 L1538.7,479.3 L1542.3,478.2 L1545.9,477.1 L1549.6,475.9 L1553.2,474.8 L1556.8,473.7 L1560.4,472.5 L1564.0,471.4 L1567.6,470.3 L1571.2,469.2 L1574.9,468.1 L1578.5,466.9 L1582.1,465.8 L1585.7,464.7 L1589.3,463.6 L1592.9,462.5 L1596.5,461.4 L1600.2,460.2 L1603.8,459.1 L1607.4,458.0 L1611.0,456.9 L1614.6,455.8 L1618.2,454.7 L1621.8,453.6 L1625.5,452.5 L1629.1,451.4 L1632.7,450.3 L1636.3,449.2 L1639.9,448.1 L1643.5,447.0 L1647.1,445.9 L1650.8,444.8 L1654.4,443.7 L1658.0,442.7 L1661.6,441.6 L1665.2,440.5 L1668.8,439.4 L1672.4,438.3 L1676.1,437.2 L1679.7,436.1 L1683.3,435.1 L1686.9,434.0 L1690.5,432.9 L1694.1,431.8 L1697.7,430.8 L1701.4,429.7 L1705.0,428.6 L1708.6,427.5 L1712.2,426.5 L1715.8,425.4 L1719.4,424.3 L1723.0,423.3 L1726.7,422.2 L1730.3,421.2 L1733.9,420.1 L1737.5,419.0 L1741.1,418.0 L1744.7,416.9 L1748.3,415.9 L1752.0,414.8 L1755.6,413.8 L1759.2,412.7 L1762.8,411.7 L1766.4,410.6 L1770.0,409.6 L1773.6,408.5 L1777.3,407.5 L1780.9,406.4 L1784.5,405.4 L1788.1,404.3 L1791.7,403.3 L1795.3,402.3 L1798.9,401.2 L1802.6,400.2 L1806.2,399.1 L1809.8,398.1 L1813.4,397.1" stroke="#ff0000" stroke-width="4.8" stroke-dasharray="28 28" fill="none"/>
<path d="M299.0,972.8 L302.6,966.2 L306.2,959.9 L309.8,953.7 L313.5,947.8 L317.1,941.9 L320.7,936.3 L324.3,930.8 L327.9,925.4 L331.5,920.1 L335.1,915.0 L338.8,909.9 L342.4,905.0 L346.0,900.2 L349.6,895.4 L353.2,890.8 L356.8,886.2 L360.4,881.7 L364.1,877.3 L367.7,872.9 L371.3,868.6 L374.9,864.4 L378.5,860.3 L382.1,856.2 L385.7,852.1 L389.4,848.2 L393.0,844.2 L396.6,840.4 L400.2,836.5 L403.8,832.8 L407.4,829.0 L411.0,825.3 L414.7,821.7 L418.3,818.1 L421.9,814.5 L425.5,811.0 L429.1,807.5 L432.7,804.1 L436.3,800.7 L440.0,797.3 L443.6,794.0 L447.2,790.7 L450.8,787.4 L454.4,784.1 L458.0,780.9 L461.6,777.7 L465.3,774.6 L468.9,771.4 L472.5,768.3 L476.1,765.2 L479.7,762.2 L483.3,759.2 L486.9,756.2 L490.6,753.2 L494.2,750.2 L497.8,747.2 L501.4,744.2 L505.0,741.2 L508.6,738.3 L512.2,735.4 L515.9,732.5 L519.5,729.6 L523.1,726.8 L526.7,724.0 L530.3,721.2 L533.9,718.5 L537.5,715.8 L541.2,713.1 L544.8,710.5 L548.4,707.9 L552.0,705.3 L555.6,702.7 L559.2,700.2 L562.8,697.7 L566.5,695.2 L570.1,692.7 L573.7,690.3 L577.3,687.8 L580.9,685.4 L584.5,683.0 L588.1,680.6 L591.8,678.1 L595.4,675.8 L599.0,673.4 L602.6,671.0 L606.2,668.6 L609.8,666.3 L613.4,663.9 L617.1,661.6 L620.7,659.3 L624.3,657.0 L627.9,654.7 L631.5,652.4 L635.1,650.1 L638.7,647.9 L642.4,645.6 L646.0,643.3 L649.6,641.1 L653.2,638.9 L656.8,636.7 L660.4,634.4 L664.0,632.2 L667.7,630.0 L671.3,627.9 L674.9,625.7 L678.5,623.5 L682.1,621.3 L685.7,619.2 L689.3,617.0 L693.0,614.9 L696.6,612.8 L700.2,610.7 L703.8,608.5 L707.4,606.4 L711.0,604.3 L714.6,602.3 L718.3,600.2 L721.9,598.1 L725.5,596.0 L729.1,594.0 L732.7,591.9 L736.3,589.9 L739.9,587.8 L743.6,585.8 L747.2,583.8 L750.8,581.8 L754.4,579.8 L758.0,577.8 L761.6,575.8 L765.2,573.8 L768.9,571.8 L772.5,569.8 L776.1,567.9 L779.7,565.9 L783.3,563.9 L786.9,562.0 L790.5,560.0 L794.2,558.1 L797.8,556.2 L801.4,554.3 L805.0,552.3 L808.6,550.4 L812.2,548.5 L815.8,546.6 L819.5,544.7 L823.1,542.8 L826.7,540.9 L830.3,539.1 L833.9,537.2 L837.5,535.3 L841.1,533.5 L844.8,531.6 L848.4,529.8 L852.0,527.9 L855.6,526.1 L859.2,524.3 L862.8,522.4 L866.4,520.6 L870.1,518.8 L873.7,517.0 L877.3,515.2 L880.9,513.4 L884.5,511.6 L888.1,509.8 L891.7,508.0 L895.4,506.2 L899.0,504.4 L902.6,502.7 L906.2,500.9 L909.8,499.1 L913.4,497.4 L917.0,495.6 L920.7,493.9 L924.3,492.1 L927.9,490.4 L931.5,488.7 L935.1,486.9 L938.7,485.2 L942.3,483.5 L946.0,481.8 L949.6,480.1 L953.2,478.4 L956.8,476.7 L960.4,475.0 L964.0,473.3 L967.6,471.6 L971.3,469.9 L974.9,468.2 L978.5,466.6 L982.1,464.9 L985.7,463.2 L989.3,461.6 L992.9,459.9 L996.6,458.2 L1000.2,456.6 L1003.8,454.9 L1007.4,453.3 L1011.0,451.7 L1014.6,450.0 L1018.2,448.4 L1021.9,446.8 L1025.5,445.2 L1029.1,443.5 L1032.7,441.9 L1036.3,440.3 L1039.9,438.7 L1043.5,437.1 L1047.2,435.5 L1050.8,433.9 L1054.4,432.3 L1058.0,430.7 L1061.6,429.1 L1065.2,427.6 L1068.9,426.0 L1072.5,424.4 L1076.1,422.8 L1079.7,421.3 L1083.3,419.7 L1086.9,418.1 L1090.5,416.6 L1094.2,415.0 L1097.8,413.5 L1101.4,411.9 L1105.0,410.4 L1108.6,408.9 L1112.2,407.3 L1115.8,405.8 L1119.5,404.3 L1123.1,402.7 L1126.7,401.2 L1130.3,399.7 L1133.9,398.2 L1137.5,396.7 L1141.1,395.2 L1144.8,393.6 L1148.4,392.1 L1152.0,390.6 L1155.6,389.1 L1159.2,387.7 L1162.8,386.2 L1166.4,384.7 L1170.1,383.2 L1173.7,381.7 L1177.3,380.2 L1180.9,378.8 L1184.5,377.3 L1188.1,375.8 L1191.7,374.3 L1195.4,372.9 L1199.0,371.4 L1202.6,370.0 L1206.2,368.5 L1209.8,367.1 L1213.4,365.6 L1217.0,364.2 L1220.7,362.7 L1224.3,361.3 L1227.9,359.8 L1231.5,358.4 L1235.1,357.0 L1238.7,355.6 L1242.3,354.1 L1246.0,352.7 L1249.6,351.3 L1253.2,349.9 L1256.8,348.5 L1260.4,347.0 L1264.0,345.6 L1267.6,344.2 L1271.3,342.8 L1274.9,341.4 L1278.5,340.0 L1282.1,338.6 L1285.7,337.2 L1289.3,335.8 L1292.9,334.5 L1296.6,333.1 L1300.2,331.7 L1303.8,330.3 L1307.4,328.9 L1311.0,327.6 L1314.6,326.2 L1318.2,324.8 L1321.9,323.4 L1325.5,322.1 L1329.1,320.7 L1332.7,319.4 L1336.3,318.0 L1339.9,316.6 L1343.5,315.3 L1347.2,313.9 L1350.8,312.6 L1354.4,311.2 L1358.0,309.9 L1361.6,308.6 L1365.2,307.2 L1368.8,305.9 L1372.5,304.5 L1376.1,303.2 L1379.7,301.9 L1383.3,300.6 L1386.9,299.2 L1390.5,297.9 L1394.1,296.6 L1397.8,295.3 L1401.4,294.0 L1405.0,292.6 L1408.6,291.3 L1412.2,290.0 L1415.8,288.7 L1419.4,287.4 L1423.1,286.1 L1426.7,284.8 L1430.3,283.5 L1433.9,282.2 L1437.5,280.9 L1441.1,279.6 L1444.7,278.3 L1448.4,277.1 L1452.0,275.8 L1455.6,274.5 L1459.2,273.2 L1462.8,271.9 L1466.4,270.7 L1470.0,269.4 L1473.7,268.1 L1477.3,266.8 L1480.9,265.6 L1484.5,264.3 L1488.1,263.0 L1491.7,261.8 L1495.3,260.5 L1499.0,259.3 L1502.6,258.0 L1506.2,256.8 L1509.8,255.5 L1513.4,254.3 L1517.0,253.0 L1520.6,251.8 L1524.3,250.5 L1527.9,249.3 L1531.5,248.0 L1535.1,246.8 L1538.7,245.6 L1542.3,244.3 L1545.9,243.1 L1549.6,241.9 L1553.2,240.6 L1556.8,239.4 L1560.4,238.2 L1564.0,237.0 L1567.6,235.7 L1571.2,234.5 L1574.9,233.3 L1578.5,232.1 L1582.1,230.9 L1585.7,229.7 L1589.3,228.5 L1592.9,227.2 L1596.5,226.0 L1600.2,224.8 L1603.8,223.6 L1607.4,222.4 L1611.0,221.2 L1614.6,220.0 L1618.2,218.8 L1621.8,217.6 L1625.5,216.5 L1629.1,215.3 L1632.7,214.1 L1636.3,212.9 L1639.9,211.7 L1643.5,210.5 L1647.1,209.3 L1650.8,208.2 L1654.4,207.0 L1658.0,205.8 L1661.6,204.6 L1665.2,203.5 L1668.8,202.3 L1672.4,201.1 L1676.1,200.0 L1679.7,198.8 L1683.3,197.6 L1686.9,196.5 L1690.5,195.3 L1694.1,194.1 L1697.7,193.0 L1701.4,191.8 L1705.0,190.7 L1708.6,189.5 L1712.2,188.4 L1715.8,187.2 L1719.4,186.1 L1723.0,184.9 L1726.7,183.8 L1730.3,182.6 L1733.9,181.5 L1737.5,180.4 L1741.1,179.2 L1744.7,178.1 L1748.3,177.0 L1752.0,175.8 L1755.6,174.7 L1759.2,173.6 L1762.8,172.4 L1766.4,171.3 L1770.0,170.2 L1773.6,169.0 L1777.3,167.9 L1780.9,166.8 L1784.5,165.7 L1788.1,164.6 L1791.7,163.4 L1795.3,162.3 L1798.9,161.2 L1802.6,160.1 L1806.2,159.0 L1809.8,157.9 L1813.4,156.8" stroke="#ff0000" stroke-width="4.8" stroke-dasharray="28 28" fill="none"/>
<path d="M299.0,918.1 L302.6,911.6 L306.2,905.4 L309.8,899.3 L313.5,893.4 L317.1,887.6 L320.7,882.0 L324.3,876.6 L327.9,871.3 L331.5,866.1 L335.1,861.0 L338.8,856.1 L342.4,851.2 L346.0,846.4 L349.6,841.8 L353.2,837.2 L356.8,832.7 L360.4,828.3 L364.1,823.9 L367.7,819.7 L371.3,815.4 L374.9,811.3 L378.5,807.2 L382.1,803.2 L385.7,799.2 L389.4,795.3 L393.0,791.5 L396.6,787.7 L400.2,783.9 L403.8,780.2 L407.4,776.5 L411.0,772.9 L414.7,769.3 L418.3,765.8 L421.9,762.3 L425.5,758.8 L429.1,755.4 L432.7,752.0 L436.3,748.7 L440.0,745.4 L443.6,742.1 L447.2,738.8 L450.8,735.6 L454.4,732.4 L458.0,729.2 L461.6,726.1 L465.3,723.0 L468.9,719.9 L472.5,716.9 L476.1,713.8 L479.7,710.8 L483.3,707.9 L486.9,704.9 L490.6,702.0 L494.2,699.0 L497.8,696.1 L501.4,693.2 L505.0,690.3 L508.6,687.4 L512.2,684.5 L515.9,681.7 L519.5,678.9 L523.1,676.1 L526.7,673.3 L530.3,670.6 L533.9,667.9 L537.5,665.3 L541.2,662.6 L544.8,660.0 L548.4,657.4 L552.0,654.9 L555.6,652.4 L559.2,649.8 L562.8,647.4 L566.5,644.9 L570.1,642.4 L573.7,640.0 L577.3,637.5 L580.9,635.1 L584.5,632.7 L588.1,630.3 L591.8,627.9 L595.4,625.6 L599.0,623.2 L602.6,620.8 L606.2,618.5 L609.8,616.2 L613.4,613.8 L617.1,611.5 L620.7,609.2 L624.3,606.9 L627.9,604.7 L631.5,602.4 L635.1,600.1 L638.7,597.9 L642.4,595.6 L646.0,593.4 L649.6,591.2 L653.2,589.0 L656.8,586.8 L660.4,584.6 L664.0,582.4 L667.7,580.2 L671.3,578.0 L674.9,575.9 L678.5,573.7 L682.1,571.6 L685.7,569.4 L689.3,567.3 L693.0,565.2 L696.6,563.1 L700.2,561.0 L703.8,558.9 L707.4,556.8 L711.0,554.7 L714.6,552.6 L718.3,550.5 L721.9,548.5 L725.5,546.4 L729.1,544.4 L732.7,542.3 L736.3,540.3 L739.9,538.3 L743.6,536.3 L747.2,534.3 L750.8,532.3 L754.4,530.3 L758.0,528.3 L761.6,526.3 L765.2,524.3 L768.9,522.3 L772.5,520.4 L776.1,518.4 L779.7,516.5 L783.3,514.5 L786.9,512.6 L790.5,510.6 L794.2,508.7 L797.8,506.8 L801.4,504.9 L805.0,503.0 L808.6,501.1 L812.2,499.2 L815.8,497.3 L819.5,495.4 L823.1,493.5 L826.7,491.6 L830.3,489.8 L833.9,487.9 L837.5,486.0 L841.1,484.2 L844.8,482.3 L848.4,480.5 L852.0,478.6 L855.6,476.8 L859.2,475.0 L862.8,473.2 L866.4,471.3 L870.1,469.5 L873.7,467.7 L877.3,465.9 L880.9,464.1 L884.5,462.3 L888.1,460.5 L891.7,458.8 L895.4,457.0 L899.0,455.2 L902.6,453.4 L906.2,451.7 L909.8,449.9 L913.4,448.2 L917.0,446.4 L920.7,444.7 L924.3,442.9 L927.9,441.2 L931.5,439.5 L935.1,437.7 L938.7,436.0 L942.3,434.3 L946.0,432.6 L949.6,430.9 L953.2,429.1 L956.8,427.4 L960.4,425.7 L964.0,424.0 L967.6,422.4 L971.3,420.7 L974.9,419.0 L978.5,417.3 L982.1,415.6 L985.7,414.0 L989.3,412.3 L992.9,410.6 L996.6,409.0 L1000.2,407.3 L1003.8,405.7 L1007.4,404.0 L1011.0,402.4 L1014.6,400.7 L1018.2,399.1 L1021.9,397.5 L1025.5,395.8 L1029.1,394.2 L1032.7,392.6 L1036.3,391.0 L1039.9,389.4 L1043.5,387.8 L1047.2,386.1 L1050.8,384.5 L1054.4,382.9 L1058.0,381.3 L1061.6,379.8 L1065.2,378.2 L1068.9,376.6 L1072.5,375.0 L1076.1,373.4 L1079.7,371.8 L1083.3,370.3 L1086.9,368.7 L1090.5,367.1 L1094.2,365.6 L1097.8,364.0 L1101.4,362.4 L1105.0,360.9 L1108.6,359.3 L1112.2,357.8 L1115.8,356.3 L1119.5,354.7 L1123.1,353.2 L1126.7,351.6 L1130.3,350.1 L1133.9,348.6 L1137.5,347.0 L1141.1,345.5 L1144.8,344.0 L1148.4,342.5 L1152.0,341.0 L1155.6,339.5 L1159.2,338.0 L1162.8,336.5 L1166.4,335.0 L1170.1,333.5 L1173.7,332.0 L1177.3,330.5 L1180.9,329.0 L1184.5,327.5 L1188.1,326.0 L1191.7,324.5 L1195.4,323.0 L1199.0,321.6 L1202.6,320.1 L1206.2,318.6 L1209.8,317.1 L1213.4,315.7 L1217.0,314.2 L1220.7,312.8 L1224.3,311.3 L1227.9,309.8 L1231.5,308.4 L1235.1,306.9 L1238.7,305.5 L1242.3,304.0 L1246.0,302.6 L1249.6,301.2 L1253.2,299.7 L1256.8,298.3 L1260.4,296.9 L1264.0,295.4 L1267.6,294.0 L1271.3,292.6 L1274.9,291.2 L1278.5,289.7 L1282.1,288.3 L1285.7,286.9 L1289.3,285.5 L1292.9,284.1 L1296.6,282.7 L1300.2,281.3 L1303.8,279.9 L1307.4,278.5 L1311.0,277.1 L1314.6,275.7 L1318.2,274.3 L1321.9,272.9 L1325.5,271.5 L1329.1,270.1 L1332.7,268.7 L1336.3,267.3 L1339.9,266.0 L1343.5,264.6 L1347.2,263.2 L1350.8,261.8 L1354.4,260.5 L1358.0,259.1 L1361.6,257.7 L1365.2,256.4 L1368.8,255.0 L1372.5,253.7 L1376.1,252.3 L1379.7,250.9 L1383.3,249.6 L1386.9,248.2 L1390.5,246.9 L1394.1,245.5 L1397.8,244.2 L1401.4,242.9 L1405.0,241.5 L1408.6,240.2 L1412.2,238.8 L1415.8,237.5 L1419.4,236.2 L1423.1,234.8 L1426.7,233.5 L1430.3,232.2 L1433.9,230.9 L1437.5,229.5 L1441.1,228.2 L1444.7,226.9 L1448.4,225.6 L1452.0,224.3 L1455.6,223.0 L1459.2,221.6 L1462.8,220.3 L1466.4,219.0 L1470.0,217.7 L1473.7,216.4 L1477.3,215.1 L1480.9,213.8 L1484.5,212.5 L1488.1,211.2 L1491.7,209.9 L1495.3,208.6 L1499.0,207.4 L1502.6,206.1 L1506.2,204.8 L1509.8,203.5 L1513.4,202.2 L1517.0,200.9 L1520.6,199.7 L1524.3,198.4 L1527.9,197.1 L1531.5,195.8 L1535.1,194.6 L1538.7,193.3 L1542.3,192.0 L1545.9,190.8 L1549.6,189.5 L1553.2,188.2 L1556.8,187.0 L1560.4,185.7 L1564.0,184.4 L1567.6,183.2 L1571.2,181.9 L1574.9,180.7 L1578.5,179.4 L1582.1,178.2 L1585.7,176.9 L1589.3,175.7 L1592.9,174.5 L1596.5,173.2 L1600.2,172.0 L1603.8,170.7 L1607.4,169.5 L1611.0,168.3 L1614.6,167.0 L1618.2,165.8 L1621.8,164.6 L1625.5,163.3 L1629.1,162.1 L1632.7,160.9 L1636.3,159.7 L1639.9,158.4 L1643.5,157.2 L1647.1,156.0 L1650.8,154.8 L1654.4,153.6 L1658.0,152.3 L1661.6,151.1 L1665.2,149.9 L1668.8,148.7 L1672.4,147.5 L1676.1,146.3 L1679.7,145.1 L1683.3,143.9 L1686.9,142.7 L1690.5,141.5 L1694.1,140.3 L1697.7,139.1 L1701.4,137.9 L1705.0,136.7 L1708.6,135.5 L1712.2,134.3 L1715.8,133.1 L1719.4,131.9 L1723.0,130.7 L1726.7,129.6 L1730.3,128.4 L1733.9,127.2 L1737.5,126.0 L1741.1,124.8 L1744.7,123.6 L1748.3,122.5 L1752.0,121.3 L1755.6,120.1 L1759.2,118.9 L1762.8,117.8 L1766.4,116.6 L1770.0,115.4 L1773.6,114.3 L1777.3,113.1 L1780.9,111.9 L1784.5,110.8 L1788.1,109.6 L1791.7,108.4 L1795.3,107.3 L1798.9,106.1 L1802.6,105.0 L1806.2,103.8 L1809.8,102.7 L1813.4,101.5" stroke="#ff0000" stroke-width="4.8" stroke-dasharray="28 28" fill="none"/>
<path d="M299.0,863.2 L302.6,856.9 L306.2,850.8 L309.8,844.9 L313.5,839.1 L317.1,833.5 L320.7,828.0 L324.3,822.6 L327.9,817.4 L331.5,812.3 L335.1,807.3 L338.8,802.5 L342.4,797.7 L346.0,793.0 L349.6,788.4 L353.2,783.8 L356.8,779.4 L360.4,775.0 L364.1,770.7 L367.7,766.5 L371.3,762.3 L374.9,758.2 L378.5,754.2 L382.1,750.2 L385.7,746.2 L389.4,742.4 L393.0,738.5 L396.6,734.8 L400.2,731.0 L403.8,727.3 L407.4,723.7 L411.0,720.1 L414.7,716.5 L418.3,713.0 L421.9,709.5 L425.5,706.1 L429.1,702.7 L432.7,699.3 L436.3,695.9 L440.0,692.6 L443.6,689.4 L447.2,686.1 L450.8,682.9 L454.4,679.7 L458.0,676.5 L461.6,673.4 L465.3,670.3 L468.9,667.2 L472.5,664.2 L476.1,661.2 L479.7,658.2 L483.3,655.2 L486.9,652.2 L490.6,649.3 L494.2,646.4 L497.8,643.5 L501.4,640.6 L505.0,637.8 L508.6,634.9 L512.2,632.2 L515.9,629.4 L519.5,626.6 L523.1,623.9 L526.7,621.2 L530.3,618.6 L533.9,615.9 L537.5,613.3 L541.2,610.7 L544.8,608.1 L548.4,605.6 L552.0,603.0 L555.6,600.5 L559.2,598.0 L562.8,595.4 L566.5,592.9 L570.1,590.5 L573.7,588.0 L577.3,585.5 L580.9,583.0 L584.5,580.6 L588.1,578.2 L591.8,575.7 L595.4,573.3 L599.0,570.9 L602.6,568.5 L606.2,566.2 L609.8,563.8 L613.4,561.4 L617.1,559.1 L620.7,556.8 L624.3,554.4 L627.9,552.1 L631.5,549.8 L635.1,547.5 L638.7,545.3 L642.4,543.0 L646.0,540.7 L649.6,538.5 L653.2,536.2 L656.8,534.0 L660.4,531.8 L664.0,529.6 L667.7,527.4 L671.3,525.2 L674.9,523.0 L678.5,520.8 L682.1,518.6 L685.7,516.5 L689.3,514.3 L693.0,512.2 L696.6,510.0 L700.2,507.9 L703.8,505.8 L707.4,503.7 L711.0,501.6 L714.6,499.5 L718.3,497.4 L721.9,495.3 L725.5,493.2 L729.1,491.2 L732.7,489.1 L736.3,487.1 L739.9,485.0 L743.6,483.0 L747.2,480.9 L750.8,478.9 L754.4,476.9 L758.0,474.9 L761.6,472.9 L765.2,470.9 L768.9,468.9 L772.5,466.9 L776.1,465.0 L779.7,463.0 L783.3,461.0 L786.9,459.1 L790.5,457.1 L794.2,455.2 L797.8,453.3 L801.4,451.3 L805.0,449.4 L808.6,447.5 L812.2,445.6 L815.8,443.7 L819.5,441.8 L823.1,439.9 L826.7,438.0 L830.3,436.1 L833.9,434.2 L837.5,432.4 L841.1,430.5 L844.8,428.6 L848.4,426.8 L852.0,424.9 L855.6,423.1 L859.2,421.3 L862.8,419.4 L866.4,417.6 L870.1,415.8 L873.7,414.0 L877.3,412.2 L880.9,410.4 L884.5,408.6 L888.1,406.8 L891.7,405.0 L895.4,403.2 L899.0,401.4 L902.6,399.6 L906.2,397.9 L909.8,396.1 L913.4,394.3 L917.0,392.6 L920.7,390.8 L924.3,389.1 L927.9,387.3 L931.5,385.6 L935.1,383.9 L938.7,382.1 L942.3,380.4 L946.0,378.7 L949.6,377.0 L953.2,375.3 L956.8,373.6 L960.4,371.9 L964.0,370.2 L967.6,368.5 L971.3,366.8 L974.9,365.1 L978.5,363.4 L982.1,361.8 L985.7,360.1 L989.3,358.4 L992.9,356.8 L996.6,355.1 L1000.2,353.4 L1003.8,351.8 L1007.4,350.1 L1011.0,348.5 L1014.6,346.9 L1018.2,345.2 L1021.9,343.6 L1025.5,342.0 L1029.1,340.3 L1032.7,338.7 L1036.3,337.1 L1039.9,335.5 L1043.5,333.9 L1047.2,332.3 L1050.8,330.7 L1054.4,329.1 L1058.0,327.5 L1061.6,325.9 L1065.2,324.3 L1068.9,322.7 L1072.5,321.2 L1076.1,319.6 L1079.7,318.0 L1083.3,316.4 L1086.9,314.9 L1090.5,313.3 L1094.2,311.8 L1097.8,310.2 L1101.4,308.7 L1105.0,307.1 L1108.6,305.6 L1112.2,304.0 L1115.8,302.5 L1119.5,301.0 L1123.1,299.4 L1126.7,297.9 L1130.3,296.4 L1133.9,294.9 L1137.5,293.3 L1141.1,291.8 L1144.8,290.3 L1148.4,288.8 L1152.0,287.3 L1155.6,285.8 L1159.2,284.3 L1162.8,282.8 L1166.4,281.3 L1170.1,279.8 L1173.7,278.3 L1177.3,276.8 L1180.9,275.4 L1184.5,273.9 L1188.1,272.4 L1191.7,270.9 L1195.4,269.5 L1199.0,268.0 L1202.6,266.5 L1206.2,265.1 L1209.8,263.6 L1213.4,262.2 L1217.0,260.7 L1220.7,259.3 L1224.3,257.8 L1227.9,256.4 L1231.5,254.9 L1235.1,253.5 L1238.7,252.1 L1242.3,250.6 L1246.0,249.2 L1249.6,247.8 L1253.2,246.4 L1256.8,244.9 L1260.4,243.5 L1264.0,242.1 L1267.6,240.7 L1271.3,239.3 L1274.9,237.9 L1278.5,236.5 L1282.1,235.1 L1285.7,233.7 L1289.3,232.3 L1292.9,230.9 L1296.6,229.5 L1300.2,228.1 L1303.8,226.7 L1307.4,225.3 L1311.0,223.9 L1314.6,222.5 L1318.2,221.2 L1321.9,219.8 L1325.5,218.4 L1329.1,217.0 L1332.7,215.7 L1336.3,214.3 L1339.9,213.0 L1343.5,211.6 L1347.2,210.2 L1350.8,208.9 L1354.4,207.5 L1358.0,206.2 L1361.6,204.8 L1365.2,203.5 L1368.8,202.1 L1372.5,200.8 L1376.1,199.4 L1379.7,198.1 L1383.3,196.8 L1386.9,195.4 L1390.5,194.1 L1394.1,192.8 L1397.8,191.5 L1401.4,190.1 L1405.0,188.8 L1408.6,187.5 L1412.2,186.2 L1415.8,184.9 L1419.4,183.5 L1423.1,182.2 L1426.7,180.9 L1430.3,179.6 L1433.9,178.3 L1437.5,177.0 L1441.1,175.7 L1444.7,174.4 L1448.4,173.1 L1452.0,171.8 L1455.6,170.5 L1459.2,169.2 L1462.8,168.0 L1466.4,166.7 L1470.0,165.4 L1473.7,164.1 L1477.3,162.8 L1480.9,161.5 L1484.5,160.3 L1488.1,159.0 L1491.7,157.7 L1495.3,156.5 L1499.0,155.2 L1502.6,153.9 L1506.2,152.7 L1509.8,151.4 L1513.4,150.1 L1517.0,148.9 L1520.6,147.6 L1524.3,146.4 L1527.9,145.1 L1531.5,143.9 L1535.1,142.6 L1538.7,141.4 L1542.3,140.1 L1545.9,138.9 L1549.6,137.6 L1553.2,136.4 L1556.8,135.2 L1560.4,133.9 L1564.0,132.7 L1567.6,131.5 L1571.2,130.2 L1574.9,129.0 L1578.5,127.8 L1582.1,126.6 L1585.7,125.3 L1589.3,124.1 L1592.9,122.9 L1596.5,121.7 L1600.2,120.5 L1603.8,119.3 L1607.4,118.0 L1611.0,116.8 L1614.6,115.6 L1618.2,114.4 L1621.8,113.2 L1625.5,112.0 L1629.1,110.8 L1632.7,109.6 L1636.3,108.4 L1639.9,107.2 L1643.5,106.0 L1647.1,104.8 L1650.8,103.6 L1654.4,102.4 L1658.0,101.3 L1661.6,100.1 L1665.2,98.9 L1668.8,97.7 L1672.4,96.5 L1676.1,95.3 L1679.7,94.2 L1683.3,93.0 L1686.9,91.8 L1690.5,90.6 L1694.1,89.5 L1697.7,88.3 L1701.4,87.1 L1705.0,86.0 L1708.6,84.8 L1712.2,83.6 L1715.8,82.5 L1719.4,81.3 L1723.0,80.2 L1726.7,79.0 L1730.3,77.8 L1733.9,76.7 L1737.5,75.5 L1741.1,74.4 L1744.7,73.2 L1748.3,72.1 L1752.0,70.9 L1755.6,69.8 L1759.2,68.7 L1762.8,67.5 L1766.4,66.4 L1770.0,65.2 L1773.6,64.1 L1777.3,63.0 L1780.9,61.8 L1784.5,60.7 L1788.1,59.6 L1791.7,58.4 L1795.3,57.3 L1798.9,56.2 L1802.6,55.0 L1806.2,53.9 L1809.8,52.8 L1813.4,51.7" stroke="#ff0000" stroke-width="4.8" stroke-dasharray="28 28" fill="none"/>
</g>
<rect x="1174" y="673.5" width="637" height="424.0" fill="#fff"/>
<line x1="1174" y1="674.2" x2="1773" y2="674.2" stroke="#8f8f8f" stroke-width="2.8"/>
<line x1="1174" y1="1097.5" x2="1773" y2="1097.5" stroke="#444" stroke-width="2.5"/>
<line x1="1174.6" y1="673.5" x2="1174.6" y2="1097.5" stroke="#3a3a3a" stroke-width="3"/>
<line x1="1194.5" y1="707.2" x2="1330.6" y2="707.2" stroke="#008a00" stroke-width="4"/>
<path d="M1262.3,684.7 L1282.8,707.2 L1262.3,729.7 L1241.8,707.2 Z" fill="#008a00"/>
<text transform="translate(1343.0,728.2) scale(1.00,1.07)" font-size="60">CST (e</text>
<text transform="translate(1514.0,743.2) scale(1.00,1.07)" font-size="37">n</text>
<text transform="translate(1542.0,728.2) scale(1.27,1.07)" font-size="60">=</text>
<text transform="translate(1596.0,728.2) scale(1.00,1.07)" font-size="60">0</text>
<text transform="translate(1638.5,728.2) scale(1.10,1.07)" font-size="60">μm)</text>
<line x1="1194.5" y1="796.8" x2="1330.6" y2="796.8" stroke="#0000ff" stroke-width="3.2"/>
<path d="M1240.3,784.8 L1284.3,784.8 L1262.3,820.3 Z" fill="#000"/>
<text transform="translate(1343.0,817.8) scale(1.00,1.07)" font-size="60">CST (e</text>
<text transform="translate(1514.0,832.8) scale(1.00,1.07)" font-size="37">n</text>
<text transform="translate(1542.0,817.8) scale(1.27,1.07)" font-size="60">=</text>
<text transform="translate(1596.0,817.8) scale(1.00,1.07)" font-size="60">25</text>
<text transform="translate(1670.0,817.8) scale(1.10,1.07)" font-size="60">μm)</text>
<line x1="1194.5" y1="886.4" x2="1330.6" y2="886.4" stroke="#0000ff" stroke-width="3.2"/>
<path d="M1262.3,863.6 L1283.3,886.4 L1262.3,909.1 L1241.3,886.4 Z" fill="#000"/>
<text transform="translate(1343.0,907.4) scale(1.00,1.07)" font-size="60">CST (e</text>
<text transform="translate(1514.0,922.4) scale(1.00,1.07)" font-size="37">n</text>
<text transform="translate(1542.0,907.4) scale(1.27,1.07)" font-size="60">=</text>
<text transform="translate(1596.0,907.4) scale(1.00,1.07)" font-size="60">50</text>
<text transform="translate(1670.0,907.4) scale(1.10,1.07)" font-size="60">μm)</text>
<line x1="1194.5" y1="974.3" x2="1330.6" y2="974.3" stroke="#0000ff" stroke-width="3.2"/>
<rect x="1245.8" y="957.8" width="33" height="33" fill="#000"/>
<text transform="translate(1343.0,995.3) scale(1.00,1.07)" font-size="60">CST (c</text>
<text transform="translate(1514.0,1010.3) scale(1.00,1.07)" font-size="37">n</text>
<text transform="translate(1539.5,995.3) scale(1.27,1.07)" font-size="60">=</text>
<text transform="translate(1596.0,995.3) scale(1.00,1.07)" font-size="60">100</text>
<text transform="translate(1700.0,995.3) scale(1.10,1.07)" font-size="60">μm)</text>
<line x1="1194.5" y1="1063.9" x2="1330.6" y2="1063.9" stroke="#ff0000" stroke-width="4.5" stroke-dasharray="27 28"/>
<text transform="translate(1343,1082) scale(1,1.07)" font-size="60">Theory</text>
<g stroke="#333" stroke-width="3.8" fill="none">
<line x1="299.0" y1="67.4" x2="299.0" y2="1134.5"/>
<line x1="277" y1="68.3" x2="1813.5" y2="68.3" stroke="#2a2a2a"/>
<line x1="277" y1="1133.0" x2="1813.5" y2="1133.0" stroke="#454545" stroke-width="3.6"/>
<line x1="277" y1="1133.0" x2="299.0" y2="1133.0" stroke="#161616"/>
<line x1="277" y1="954.8" x2="299.0" y2="954.8" stroke="#161616"/>
<line x1="277" y1="777.4" x2="299.0" y2="777.4" stroke="#161616"/>
<line x1="277" y1="600.7" x2="299.0" y2="600.7" stroke="#161616"/>
<line x1="277" y1="422.4" x2="299.0" y2="422.4" stroke="#161616"/>
<line x1="277" y1="244.8" x2="299.0" y2="244.8" stroke="#161616"/>
<line x1="277" y1="68.3" x2="299.0" y2="68.3" stroke="#161616"/>
<line x1="552.0" y1="1133.0" x2="552.0" y2="1156" stroke="#111" stroke-width="4.2"/>
<line x1="867.3" y1="1133.0" x2="867.3" y2="1156" stroke="#111" stroke-width="4.2"/>
<line x1="1182.8" y1="1133.0" x2="1182.8" y2="1156" stroke="#111" stroke-width="4.2"/>
<line x1="1498.0" y1="1133.0" x2="1498.0" y2="1156" stroke="#111" stroke-width="4.2"/>
</g>
<line x1="1813.8" y1="66.3" x2="1813.8" y2="1156" stroke="#000" stroke-width="4.6"/>
<text transform="translate(263,1158.3) scale(1,1.035)" font-size="84" text-anchor="end">100</text>
<text transform="translate(263,980.1) scale(1,1.035)" font-size="84" text-anchor="end">120</text>
<text transform="translate(263,802.7) scale(1,1.035)" font-size="84" text-anchor="end">140</text>
<text transform="translate(263,626.0) scale(1,1.035)" font-size="84" text-anchor="end">160</text>
<text transform="translate(263,447.7) scale(1,1.035)" font-size="84" text-anchor="end">180</text>
<text transform="translate(263,270.1) scale(1,1.035)" font-size="84" text-anchor="end">200</text>
<text transform="translate(263,93.6) scale(1,1.035)" font-size="84" text-anchor="end">220</text>
<text transform="translate(299.0,1231.5) scale(1,1.035)" font-size="84" text-anchor="middle">0.2</text>
<text transform="translate(552.0,1231.5) scale(1,1.035)" font-size="84" text-anchor="middle">1</text>
<text transform="translate(867.3,1231.5) scale(1,1.035)" font-size="84" text-anchor="middle">2</text>
<text transform="translate(1182.8,1231.5) scale(1,1.035)" font-size="84" text-anchor="middle">3</text>
<text transform="translate(1498.0,1231.5) scale(1,1.035)" font-size="84" text-anchor="middle">4</text>
<text transform="translate(1813.8,1231.5) scale(1,1.035)" font-size="84" text-anchor="middle">5</text>
<text x="1056" y="1310" font-size="89" font-weight="bold" text-anchor="middle">Frequency (GHz)</text>
<text transform="translate(89,539) rotate(-90)" font-size="90" font-weight="bold" text-anchor="middle">SE (dB)</text>
</svg></body></html>
